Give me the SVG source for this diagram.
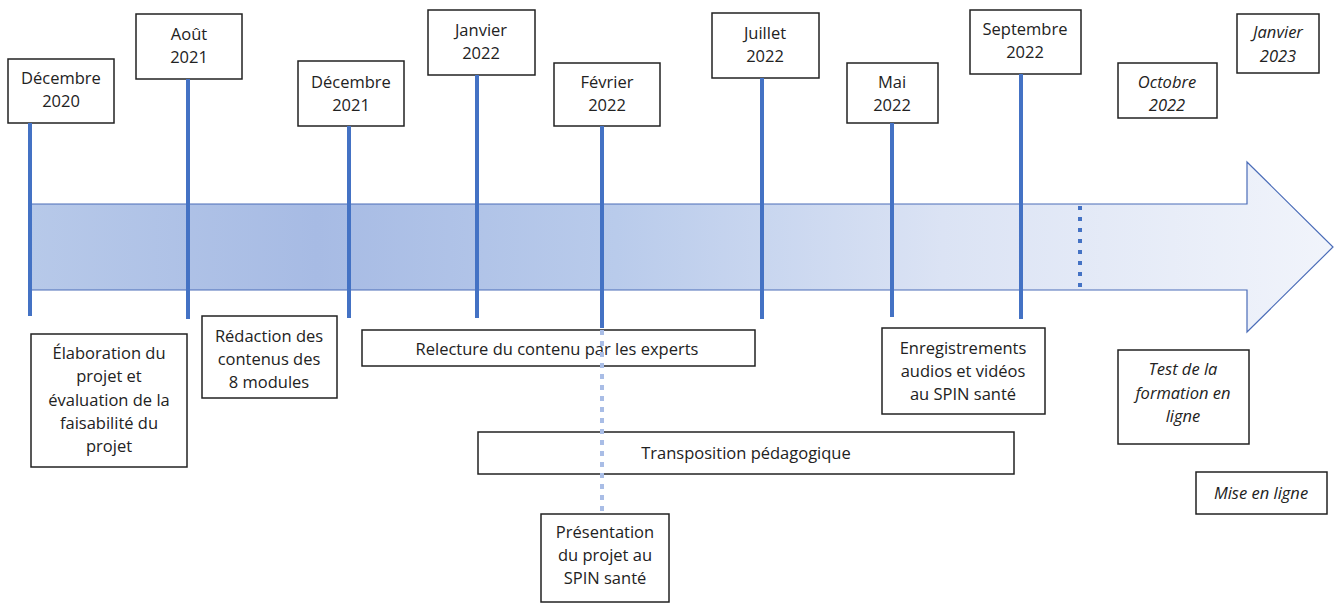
<svg xmlns="http://www.w3.org/2000/svg" width="1339" height="603" viewBox="0 0 1339 603">
<style>
.box{fill:#fff;stroke:#222;stroke-width:1.5}
.t{font-family:"Open Sans","Liberation Sans",Arial,sans-serif;font-size:16.5px;fill:#222;text-anchor:middle}
.i{font-style:italic}
.v{stroke:#4472c4;stroke-width:4;fill:none}
</style>
<defs>
<linearGradient id="g" x1="0" y1="0" x2="1" y2="0">
<stop offset="0" stop-color="#b7c9e9"/>
<stop offset="0.22" stop-color="#a7bbe4"/>
<stop offset="0.45" stop-color="#b9cbeb"/>
<stop offset="0.7" stop-color="#dbe3f4"/>
<stop offset="1" stop-color="#f1f4fb"/>
</linearGradient>
</defs>
<g id="arrow">
<path d="M30,204 H1247 V162 L1333,247 L1247,332 V290 H30 Z" fill="url(#g)" stroke="#4a6cb8" stroke-width="1.2"/>
</g>
<g id="d2020"><rect class="box" x="8" y="59" width="106" height="64"/><text class="t" x="61" y="84">Décembre</text><text class="t" x="61" y="107">2020</text></g>
<g id="a2021"><rect class="box" x="136" y="14" width="106" height="65"/><text class="t" x="189" y="40">Août</text><text class="t" x="189" y="63">2021</text></g>
<g id="d2021"><rect class="box" x="298" y="61" width="106" height="65"/><text class="t" x="351" y="88">Décembre</text><text class="t" x="351" y="111">2021</text></g>
<g id="j2022"><rect class="box" x="428" y="10" width="107" height="65"/><text class="t" x="481" y="36">Janvier</text><text class="t" x="481" y="59">2022</text></g>
<g id="f2022"><rect class="box" x="554" y="63" width="106" height="63"/><text class="t" x="607" y="88">Février</text><text class="t" x="607" y="111">2022</text></g>
<g id="jl2022"><rect class="box" x="712" y="13" width="107" height="65"/><text class="t" x="765" y="39">Juillet</text><text class="t" x="765" y="62">2022</text></g>
<g id="m2022"><rect class="box" x="847" y="63" width="91" height="60"/><text class="t" x="892" y="88">Mai</text><text class="t" x="892" y="111">2022</text></g>
<g id="s2022"><rect class="box" x="970" y="10" width="111" height="64"/><text class="t" x="1025" y="35">Septembre</text><text class="t" x="1025" y="58">2022</text></g>
<g id="o2022"><rect class="box" x="1118" y="63" width="99" height="55"/><text class="t i" x="1167" y="88">Octobre</text><text class="t i" x="1167" y="111">2022</text></g>
<g id="j2023"><rect class="box" x="1237" y="14" width="82" height="59"/><text class="t i" x="1278" y="38">Janvier</text><text class="t i" x="1278" y="62">2023</text></g>
<g id="elab"><rect class="box" x="31" y="334" width="156" height="133"/>
<text class="t" x="109" y="359">Élaboration du</text><text class="t" x="109" y="382">projet et</text><text class="t" x="109" y="406">évaluation de la</text><text class="t" x="109" y="429">faisabilité du</text><text class="t" x="109" y="452">projet</text></g>
<g id="redac"><rect class="box" x="202" y="316" width="135" height="82"/>
<text class="t" x="269" y="342">Rédaction des</text><text class="t" x="269" y="365">contenus des</text><text class="t" x="269" y="388">8 modules</text></g>
<g id="relecture"><rect class="box" x="362" y="330" width="393" height="36"/><text class="t" x="557" y="355">Relecture du contenu par les experts</text></g>
<g id="transpo"><rect class="box" x="478" y="432" width="536" height="42"/><text class="t" x="746" y="459">Transposition pédagogique</text></g>
<g id="presentation"><rect class="box" x="541" y="514" width="128" height="88"/>
<text class="t" x="605" y="538">Présentation</text><text class="t" x="605" y="561">du projet au</text><text class="t" x="605" y="584">SPIN santé</text></g>
<g id="enreg"><rect class="box" x="882" y="328" width="163" height="86"/>
<text class="t" x="963" y="354">Enregistrements</text><text class="t" x="963" y="377">audios et vidéos</text><text class="t" x="963" y="400">au SPIN santé</text></g>
<g id="test"><rect class="box" x="1118" y="350" width="131" height="94"/>
<text class="t i" x="1183" y="375">Test de la</text><text class="t i" x="1183" y="399">formation en</text><text class="t i" x="1183" y="422">ligne</text></g>
<g id="mise"><rect class="box" x="1196" y="472" width="131" height="42"/><text class="t i" x="1261" y="499">Mise en ligne</text></g>
<g id="connectors">
<line class="v" x1="30" y1="123" x2="30" y2="316"/>
<line class="v" x1="188" y1="79" x2="188" y2="319"/>
<line class="v" x1="349" y1="126" x2="349" y2="318"/>
<line class="v" x1="477" y1="75" x2="477" y2="318"/>
<line class="v" x1="602" y1="126" x2="602" y2="328"/>
<line x1="602" y1="330" x2="602" y2="512" stroke="#a9bde6" stroke-width="4" stroke-dasharray="5 6"/>
<line class="v" x1="762" y1="78" x2="762" y2="319"/>
<line class="v" x1="892" y1="123" x2="892" y2="317"/>
<line class="v" x1="1021" y1="74" x2="1021" y2="319"/>
<line x1="1080" y1="206" x2="1080" y2="290" stroke="#4472c4" stroke-width="4" stroke-dasharray="4 7"/>
</g>
</svg>
